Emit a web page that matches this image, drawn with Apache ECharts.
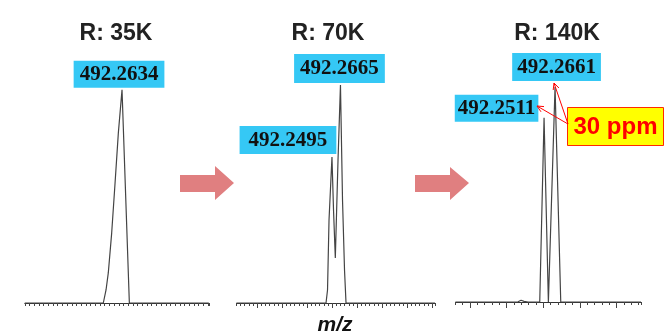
<!DOCTYPE html>
<html>
<head>
<meta charset="utf-8">
<script src="https://cdn.jsdelivr.net/npm/echarts@6/dist/echarts.min.js"></script>
<style>
html,body{margin:0;padding:0;background:#fff;}
#c{width:666px;height:331px;}
</style>
</head>
<body>
<div id="c"></div>
<script>
// ---- Data (m/z, relative intensity) ----
const titles = ['R: 35K', 'R: 70K', 'R: 140K'];
const axisLabel = 'm/z';

const p1Mz  = [492.16, 492.2435, 492.2464, 492.2488, 492.2524, 492.2560, 492.2595, 492.2634, 492.2712, 492.3557];
const p1Int = [0, 0, 6.1, 14.1, 32.8, 56.3, 79.8, 100, 0, 0];

const p2Mz  = [492.058333, 492.2376, 492.2406, 492.2436, 492.2495, 492.2526, 492.2562, 492.2616, 492.2665, 492.2706, 492.2746, 492.2776, 492.4556];
const p2Int = [0, 0, 6.1, 38.9, 68.5, 43.6, 21.1, 67.1, 102.3, 48.3, 15.5, 0, 0];

const p3Mz  = [492.13, 492.2128, 492.2142, 492.2156, 492.2170, 492.2183, 492.2197, 492.2210, 492.2224, 492.2238, 492.2252, 492.2265, 492.2292, 492.2452, 492.2511, 492.2570, 492.2593, 492.2661, 492.2739, 492.3835];
const p3Int = [0, 0, 0.6, 0.1, 0.9, 0.3, 0.8, 0.2, 1.0, 0.3, 0.7, 0.1, 0, 0, 86.8, 0, 0, 101.3, 0, 0];

// labelled peaks: [m/z, intensity]
const p1Peaks = [[492.2634, 100]];
const p2Peaks = [[492.2665, 102.3], [492.2495, 68.5]];
const p3Peaks = [[492.2661, 101.3], [492.2511, 86.8]];

const p2Majors = [492.10, 492.15, 492.20, 492.25, 492.30, 492.35, 492.40, 492.45];
const p3Majors = [492.15, 492.20, 492.25, 492.30, 492.35];
const ppmText = '30 ppm';

// ---- helpers ----
function zip(a, b) { return a.map((v, i) => [v, b[i]]); }
const CYAN = '#35c8f5';
function peakLabel(pt, opts) {
  return {
    coord: pt,
    symbol: 'circle',
    symbolSize: 1,
    itemStyle: { color: 'rgba(0,0,0,0)' },
    label: Object.assign({
      show: true,
      position: 'top',
      distance: 1.5,
      formatter: () => pt[0].toFixed(4),
      fontFamily: '"Liberation Serif","Times New Roman",serif',
      fontWeight: 'bold',
      fontSize: 21,
      lineHeight: 22,
      color: '#111',
      backgroundColor: CYAN,
      padding: [3, 5, 2, 5]
    }, opts)
  };
}
const tickStyle = { color: '#444', width: 1 };
function baseAxis(grid, min, max, extra) {
  return Object.assign({
    type: 'value', gridIndex: grid, min: min, max: max, position: 'bottom',
    axisLine: { show: true, onZero: false, lineStyle: { color: '#333', width: 1 } },
    axisTick: { show: true, inside: false, length: 3, lineStyle: tickStyle },
    axisLabel: { show: false },
    splitLine: { show: false }
  }, extra);
}

const chart = echarts.init(document.getElementById('c'), null, { renderer: 'canvas' });
const lineStyle = { color: '#444', width: 1.2 };

const option = {
  animation: false,
  grid: [
    { left: 24.8, top: 60, width: 184, height: 243 },
    { left: 236.4, top: 60, width: 198.6, height: 243 },
    { left: 455.4, top: 60, width: 185.6, height: 242 }
  ],
  xAxis: [
    baseAxis(0, 492.16, 492.3557, { interval: 0.005 }),
    baseAxis(1, 492.058333, 492.4556, { interval: 1 / 120 }),
    baseAxis(1, 492.058333, 492.4556, { axisLine: { show: false }, axisTick: { show: true, length: 5, customValues: p2Majors, lineStyle: tickStyle } }),
    baseAxis(2, 492.13, 492.3835, { interval: 0.01 }),
    baseAxis(2, 492.13, 492.3835, { axisLine: { show: false }, axisTick: { show: true, length: 6, customValues: p3Majors, lineStyle: tickStyle } })
  ],
  yAxis: [0, 1, 2].map(i => ({ type: 'value', gridIndex: i, min: 0, max: 114, show: false })),
  series: [
    {
      type: 'line', xAxisIndex: 0, yAxisIndex: 0, data: zip(p1Mz, p1Int),
      showSymbol: false, lineStyle: lineStyle, silent: true,
      markPoint: { silent: true, data: [peakLabel(p1Peaks[0], { offset: [-3, 0], padding: [3, 6, 2, 6] })] }
    },
    {
      type: 'line', xAxisIndex: 1, yAxisIndex: 1, data: zip(p2Mz, p2Int),
      showSymbol: false, lineStyle: lineStyle, silent: true,
      markPoint: { silent: true, data: [
        peakLabel(p2Peaks[0], { offset: [-1, 0], padding: [4, 6, 3, 6] }),
        peakLabel(p2Peaks[1], { offset: [-44, 0], distance: 2.5, padding: [4, 9, 2, 9] })
      ] }
    },
    {
      type: 'line', xAxisIndex: 3, yAxisIndex: 2, data: zip(p3Mz, p3Int),
      showSymbol: false, lineStyle: lineStyle, silent: true,
      markPoint: { silent: true, data: [
        peakLabel(p3Peaks[0], { offset: [1.5, 0], distance: 5.5, padding: [4, 5, 2, 5] }),
        peakLabel(p3Peaks[1], { offset: [-47.5, 4.5], distance: 0, padding: [3, 3, 2, 3] })
      ] }
    }
  ],
  graphic: [
    // titles
    ...titles.map((t, i) => ({
      type: 'text', z: 10,
      style: { text: t, x: [116, 328, 557][i], y: 34, font: 'bold 23px "Liberation Sans", Arial, sans-serif',
        fill: '#222', align: 'center', verticalAlign: 'middle', textAlign: 'center', textVerticalAlign: 'middle' }
    })),
    {
      type: 'text', z: 10,
      style: { text: axisLabel, x: 335, y: 315, font: 'italic bold 21px "Liberation Sans", Arial, sans-serif',
        fill: '#111', align: 'center', verticalAlign: 'top', textAlign: 'center', textVerticalAlign: 'top' }
    },
    // process arrows
    {
      type: 'polygon', z: 5,
      shape: { points: [[180, 175], [215, 175], [215, 166], [234, 183], [215, 200], [215, 192], [180, 192]] },
      style: { fill: '#e07f80' }
    },
    {
      type: 'polygon', z: 5,
      shape: { points: [[415, 175], [450, 175], [450, 167], [469, 183], [450, 200], [450, 192], [415, 192]] },
      style: { fill: '#e07f80' }
    },
    // ppm annotation
    {
      type: 'rect', z: 20,
      shape: { x: 567.5, y: 107.5, width: 96, height: 38 },
      style: { fill: '#ffff00', stroke: '#ff2a00', lineWidth: 1 }
    },
    {
      type: 'text', z: 21,
      style: { text: ppmText, x: 615.5, y: 127, font: 'bold 24px "Liberation Sans", Arial, sans-serif',
        fill: '#ff0000', align: 'center', verticalAlign: 'middle', textAlign: 'center', textVerticalAlign: 'middle' }
    },
    { type: 'line', z: 22, shape: { x1: 568, y1: 124, x2: 554, y2: 83 }, style: { stroke: '#ff0000', lineWidth: 1 } },
    { type: 'polyline', z: 22, shape: { points: [[553.2, 90], [554, 83], [558.9, 88]] }, style: { stroke: '#ff0000', lineWidth: 1, fill: null } },
    { type: 'line', z: 22, shape: { x1: 568, y1: 124, x2: 537, y2: 106 }, style: { stroke: '#ff0000', lineWidth: 1 } },
    { type: 'polyline', z: 22, shape: { points: [[541, 111.8], [537, 106], [544, 106.6]] }, style: { stroke: '#ff0000', lineWidth: 1, fill: null } }
  ]
};
chart.setOption(option);
</script>
</body>
</html>
